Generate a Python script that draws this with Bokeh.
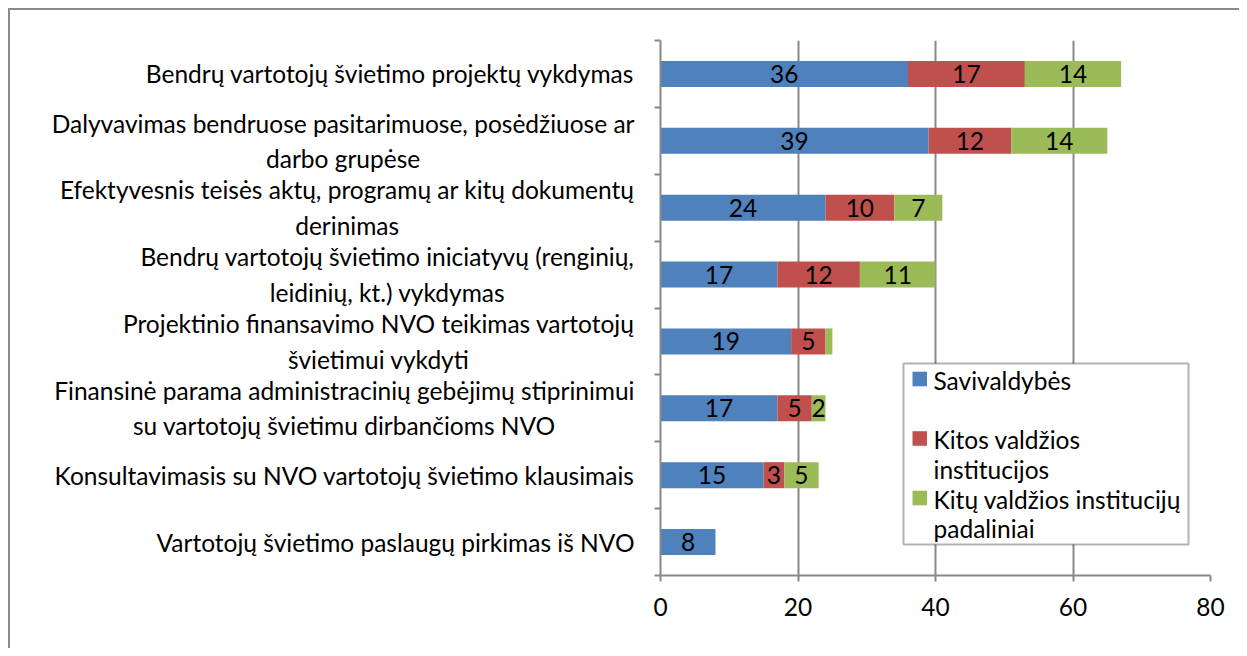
from bokeh.plotting import figure
from bokeh.layouts import row
from bokeh.models import ColumnDataSource, FixedTicker, Range1d, LabelSet, Label, BoxAnnotation
from bokeh.core.properties import value
from bokeh.embed import file_html
from bokeh.resources import INLINE

categories = [
    "Bendrų vartotojų švietimo projektų vykdymas",
    "Dalyvavimas bendruose pasitarimuose, posėdžiuose ar\ndarbo grupėse",
    "Efektyvesnis teisės aktų, programų ar kitų dokumentų\nderinimas",
    "Bendrų vartotojų švietimo iniciatyvų (renginių,\nleidinių, kt.) vykdymas",
    "Projektinio finansavimo NVO teikimas vartotojų\nšvietimui vykdyti",
    "Finansinė parama administracinių gebėjimų stiprinimui\nsu vartotojų švietimu dirbančioms NVO",
    "Konsultavimasis su NVO vartotojų švietimo klausimais",
    "Vartotojų švietimo paslaugų pirkimas iš NVO",
]
savivaldybes = [36, 39, 24, 17, 19, 17, 15, 8]
kitos_institucijos = [17, 12, 10, 12, 5, 5, 3, 0]
padaliniai = [14, 14, 7, 11, 1, 2, 5, 0]
series_names = ["Savivaldybės", "Kitos valdžios\ninstitucijos", "Kitų valdžios institucijų\npadaliniai"]
x_ticks = [0, 20, 40, 60, 80]

colors = ["#4F81BD", "#C0504D", "#9BBB59"]
FONT = "Lato"
FS = "24.5px"
GREY = "#888888"

n = len(categories)
ypos = [n - 1 - i for i in range(n)]
series = [savivaldybes, kitos_institucijos, padaliniai]
src = ColumnDataSource(dict(y=ypos, s=savivaldybes, k=kitos_institucijos, p=padaliniai))

yr = Range1d(-0.5, n - 0.5)

# main chart
p = figure(width=587, height=638, output_backend="svg", toolbar_location=None,
           x_range=Range1d(0, 80), y_range=yr,
           min_border_left=8, min_border_right=29, min_border_top=30, min_border_bottom=73)
p.outline_line_color = None
p.background_fill_color = "white"
p.border_fill_color = "white"

rs = p.hbar_stack(["s", "k", "p"], y="y", height=0.39, color=colors, source=src, line_color=None)

lx, ly, lt = [], [], []
for si, vals in enumerate(series):
    for i, v in enumerate(vals):
        start = sum(series[j][i] for j in range(si))
        if v >= 2:
            lx.append(start + v / 2)
            ly.append(ypos[i])
            lt.append(str(v))
lsrc = ColumnDataSource(dict(x=lx, y=ly, t=lt))
p.add_layout(LabelSet(x="x", y="y", text="t", source=lsrc, text_align="center", text_baseline="middle",
                      text_font=value(FONT), text_font_size=value(FS), text_color="black"))

p.xaxis.ticker = FixedTicker(ticks=x_ticks)
p.xaxis.axis_line_color = GREY
p.xaxis.axis_line_width = 2
p.xaxis.major_tick_line_color = GREY
p.xaxis.major_tick_line_width = 2
p.xaxis.major_tick_out = 6
p.xaxis.major_tick_in = 0
p.xaxis.minor_tick_line_color = None
p.xaxis.major_label_text_font = FONT
p.xaxis.major_label_text_font_size = FS
p.xaxis.major_label_text_color = "black"
p.xaxis.major_label_standoff = 16

bounds = [i - 0.5 for i in range(n + 1)]
p.yaxis.ticker = FixedTicker(ticks=[], minor_ticks=bounds)
p.yaxis.axis_line_color = GREY
p.yaxis.axis_line_width = 2
p.yaxis.minor_tick_line_color = GREY
p.yaxis.minor_tick_line_width = 2
p.yaxis.minor_tick_out = 6
p.yaxis.minor_tick_in = 0

p.xgrid.ticker = FixedTicker(ticks=x_ticks)
p.xgrid.grid_line_color = GREY
p.xgrid.grid_line_width = 2
p.ygrid.grid_line_color = None

# legend (frame-relative screen units)
p.add_layout(BoxAnnotation(left=243, right=528, bottom=31, top=212,
                           left_units="screen", right_units="screen",
                           bottom_units="screen", top_units="screen",
                           fill_color="white", fill_alpha=1, line_color="black", line_width=2))
row_top = 196.5
row_step = 59.5
line_step = 29.5
for si, name in enumerate(series_names):
    cy = row_top - si * row_step
    p.add_layout(BoxAnnotation(left=252, right=266.5, bottom=cy - 7.3, top=cy + 7.3,
                               left_units="screen", right_units="screen",
                               bottom_units="screen", top_units="screen",
                               fill_color=colors[si], fill_alpha=1, line_color=None))
    for li, line in enumerate(name.split("\n")):
        p.add_layout(Label(x=273, y=cy - 1 - li * line_step, x_units="screen", y_units="screen",
                           text=line, text_align="left", text_baseline="middle",
                           text_font=FONT, text_font_size=FS, text_color="black"))

# category labels panel (shares the y range with the chart)
lab = figure(width=642, height=638, output_backend="svg", toolbar_location=None,
             x_range=Range1d(0, 642), y_range=yr, x_axis_location=None, y_axis_location=None,
             min_border_left=0, min_border_right=0, min_border_top=30, min_border_bottom=73)
lab.outline_line_color = None
lab.grid.visible = False
lab.background_fill_color = "white"
lab.border_fill_color = "white"
for i in range(n):
    lab.add_layout(Label(x=624, x_units="screen", y=ypos[i], text=categories[i],
                         anchor="center_right", text_align="center", text_baseline="middle",
                         text_line_height=1.22,
                         text_font=FONT, text_font_size=FS, text_color="black"))

layout = row(lab, p)
layout.styles = {"border-left": "2px solid #8a8a8a", "border-top": "2px solid #8a8a8a",
                 "margin-left": "8px", "margin-top": "8px"}

open("out.html", "w").write(file_html(layout, INLINE))
